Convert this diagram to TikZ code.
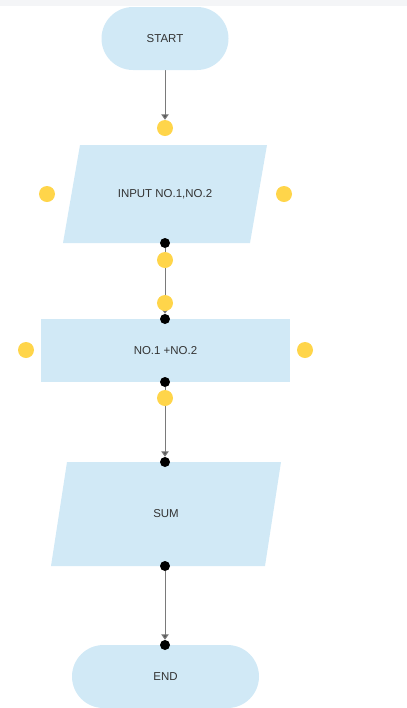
\documentclass[tikz,border=0pt]{standalone}
\usepackage{fontspec}
\setmainfont{Liberation Sans}
\usetikzlibrary{arrows.meta,positioning,shapes.misc,backgrounds}
\definecolor{boxfill}{HTML}{D1E9F6}
\definecolor{dotyellow}{HTML}{FFD54A}
\definecolor{wire}{HTML}{7A7A7A}
\definecolor{tipgray}{HTML}{555555}
\definecolor{labelgray}{HTML}{333333}
\definecolor{stripgray}{HTML}{F4F5F7}

\begin{document}
\begin{tikzpicture}[
  x=0.75pt, y=-0.75pt,
  every node/.style={font=\fontsize{8.6}{10.3}\selectfont, text=labelgray},
  terminal/.style={rounded rectangle, fill=boxfill, inner sep=0pt, minimum height=47.25pt},
  io/.style={rectangle, inner sep=0pt, path picture={
      \fill[boxfill] ([xshift=#1]path picture bounding box.north west)
        -- (path picture bounding box.north east)
        -- ([xshift=-#1]path picture bounding box.south east)
        -- (path picture bounding box.south west) -- cycle;}},
  process/.style={rectangle, fill=boxfill, inner sep=0pt},
  handle/.style={circle, fill=dotyellow, inner sep=0pt, minimum size=12pt},
  pin/.style={circle, fill=black, inner sep=0pt, minimum size=7.5pt},
  link/.style={draw=wire, line width=0.75pt, -{Triangle[width=5.5pt,length=4pt,fill=tipgray]}}
]
  \useasboundingbox (0,0) rectangle (407,708);
  \fill[stripgray] (0,0) rectangle (407,6);
  % flowchart blocks
  \node[terminal, minimum width=95.25pt] (start) at (165,38.5) {START};
  \node[io=12.75pt, minimum width=153pt, minimum height=73.5pt] (input) at (165,194) {INPUT NO.1,NO.2};
  \node[process, minimum width=186.75pt, minimum height=47.25pt] (calc) at (165.5,350.5) {NO.1 +NO.2};
  \node[io=12pt, minimum width=172.5pt, minimum height=78pt] (sum) at (166,514) {SUM};
  \node[terminal, minimum width=140.25pt] (stop) at (165.5,676.5) {END};
  % connection points
  \foreach \n/\x/\y in {hInN/165/128, hInW/47/194, hInE/284/194, hInS/165/260,
                        hCalcN/165/303, hCalcW/26/350, hCalcE/305/350, hCalcS/165/398}
    \node[handle] (\n) at (\x,\y) {};
  \foreach \n/\y in {pInS/243, pCalcN/319, pCalcS/382, pSumN/462, pSumS/566, pStopN/645}
    \node[pin] (\n) at (165,\y) {};
  % connectors, kept behind the points
  \begin{scope}[on background layer]
    \draw[link] (start.south) -- (hInN.north);
    \draw[link] (pInS) -- (pCalcN);
    \draw[link] (pCalcS) -- (pSumN);
    \draw[link] (pSumS) -- (pStopN);
  \end{scope}
\end{tikzpicture}
\end{document}
